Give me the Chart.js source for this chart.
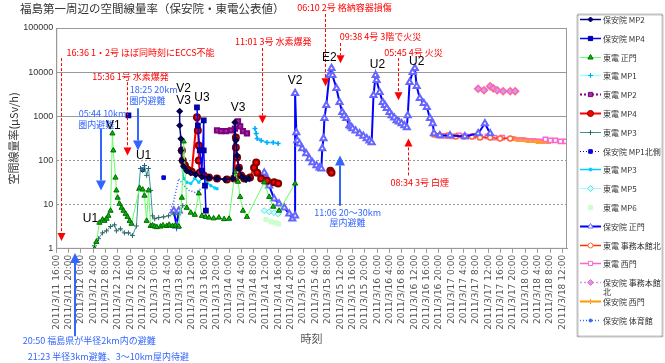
<!DOCTYPE html>
<html>
<head>
<meta charset="utf-8">
<script src="https://cdn.jsdelivr.net/npm/chart.js@4.4.1/dist/chart.umd.min.js"></script>
<style>
  html, body { margin: 0; padding: 0; background: #fff; }
  #wrap { width: 665px; height: 363px; position: relative; }
</style>
</head>
<body>
<div id="wrap"><canvas id="myChart"></canvas></div>
<script>
// x values are hours counted from 2011/3/11 16:00, y values in μSv/h
const tickLabels = [
  '2011/3/11 16:00', '2011/3/11 20:00',
  '2011/3/12 0:00', '2011/3/12 4:00', '2011/3/12 8:00', '2011/3/12 12:00', '2011/3/12 16:00', '2011/3/12 20:00',
  '2011/3/13 0:00', '2011/3/13 4:00', '2011/3/13 8:00', '2011/3/13 12:00', '2011/3/13 16:00', '2011/3/13 20:00',
  '2011/3/14 0:00', '2011/3/14 4:00', '2011/3/14 8:00', '2011/3/14 12:00', '2011/3/14 16:00', '2011/3/14 20:00',
  '2011/3/15 0:00', '2011/3/15 4:00', '2011/3/15 8:00', '2011/3/15 12:00', '2011/3/15 16:00', '2011/3/15 20:00',
  '2011/3/16 0:00', '2011/3/16 4:00', '2011/3/16 8:00', '2011/3/16 12:00', '2011/3/16 16:00', '2011/3/16 20:00',
  '2011/3/17 0:00', '2011/3/17 4:00', '2011/3/17 8:00', '2011/3/17 12:00', '2011/3/17 16:00', '2011/3/17 20:00',
  '2011/3/18 0:00', '2011/3/18 4:00', '2011/3/18 8:00', '2011/3/18 12:00'
];
const yTickValues = [1, 10, 100, 1000, 10000, 100000];

// 保安院 MP2
const nisaMp2T = [40.0, 40.0, 40.4, 40.4, 40.7, 41.3, 42.3, 43.6, 45.2, 47.2, 49.5, 52.1, 54.7, 57.3, 57.9, 58.2, 58.6, 59.2, 60.2, 61.5, 62.5];
const nisaMp2V = [1300, 620, 310, 169, 100, 73, 59, 53, 48, 43, 41, 39, 37, 39, 730, 285, 130, 66, 43, 37, 39];
// 保安院 MP4
const nisaMp4T = [23.4, 30, 45.6, 45.9, 46.5, 47.2, 47.8, 47.8, 48.2, 48.5];
const nisaMp4V = [1050, null, 1600, 620, 169, 59, 810, 169, 27, 7.3];
// 東電 正門
const tepcoGateT = [12.4, 13.0, 14.0, 15.0, 15.6, 16.3, 16.9, 17.6, 18.2, 18.5, 19.2, 19.5, 19.9, 20.5, 21.2, 21.8,
  22.5, 23.1, 23.8, 24.4, 27.0, 28.0, 28.6, 29.3, 29.9, 30.6, 31.2, 31.9, 32.6, 33.8, 34.6, 35.8, 36.6, 37.7, 38.6, 39.7,
  40.7, 41.3, 42.3, 43.6, 44.9, 46.2, 47.2, 48.4, 49.5, 51.0, 52.7, 54.4, 56.0, 57.9, 58.9, 59.6, 60.5, 61.8,
  67.4, 69.0, 70.3, 72.2, 77.4];
const tepcoGateV = [1.0, 1.44, 3.9, 4.6, 4.3, 4.8, 5.6, 7.3, 410, 169, 41, 21, 14.4, 10.5, 8.5, 7.3,
  6.2, 5.3, 4.3, 3.7, 24, 22, 16, 4.3, 21, 3.3, 3.4, 3.2, 3.1, 3.2, 3.4, 3.3, 3.5, 3.3, 3.4, 3.2,
  14.4, 270, 8.5, 6.6, 5.9, 18, 5.6, 5.3, 5.1, 4.9, 5.1, 4.7, 4.8, 54, 33, 15, 7.3, 5.3,
  32, 15, 9, 7.3, 30];
// 東電 MP1
const tepcoMp1T = [64.4, 64.8, 65.1, 66.4, 68.3, 70.3, 71.9];
const tepcoMp1V = [530, 410, 316, 285, 256, 256, 243];
// 東電 MP2
const tepcoMp2T = [52.1, 53.4, 55.0, 56.6, 57.9, 58.9, 59.6, 60.5, 61.8];
const tepcoMp2V = [480, 460, 460, 480, 530, 770, 590, 460, 410];
// 東電 MP4
const tepcoMp4T = [40.7, 41.0, 41.7, 42.6, 43.9, 45.6, 45.9, 46.2, 46.2, 46.5, 47.8, 49.5, 52.1, 55.3, 57.6,
  58.2, 58.2, 58.6, 59.2, 59.9, 60.9, 62.8, 64.1, 64.8, 65.1, 66.4, 68.3, 70.6, 71.9, 80, 88.8, 89.2];
const tepcoMp4V = [169, 100, 77, 62, 56, 950, 480, 219, 100, 53, 46, 41, 39, 37, 39,
  330, 197, 117, 69, 46, 39, 41, 69, 90, 53, 39, 35, 32, 30, null, 59, 53];
// 東電 MP3
const tepcoMp3T = [12.4, 13.7, 15.0, 16.3, 17.6, 18.9, 19.5, 20.8, 22.1, 23.4, 24.7, 26.0, 26.7, 27.3,
  28.0, 28.6, 29.3, 29.9, 30.6, 31.2, 31.9, 33.2, 34.8, 36.4, 38.1, 39.7, 41.0];
const tepcoMp3V = [1.17, 1.7, 2.3, 2.56, 3.2, 3.5, 2.56, 2.85, 2.3, 2.3, 2.0, 3.3, 21, 66,
  59, 77, 46, 66, 21, 5.6, 4.8, 5.1, 5.3, 5.6, 6.2, 5.9, 9.5];
// 保安院 MP1北側
const nisaMp1nT = [28.0, 31.0, 34.8];
const nisaMp1nV = [62, null, 41];
// 東電 MP3 (second series)
const tepcoMp3bT = [40.7, 41.3, 42.3, 43.6, 44.9, 46.2, 47.5, 48.8, 50.1, 51.4, 52.1];
const tepcoMp3bV = [77, 39, 32, 30, 39, 32, 43, 32, 27, 24, 23];
// 東電 MP5
const tepcoMp5T = [67.4, 69.0, 70.6, 71.9];
const tepcoMp5V = [7.3, 6.9, 6.6, 6.2];
// 東電 MP6
const tepcoMp6T = [68.0, 69.6, 71.0, 72.0];
const tepcoMp6V = [4.6, 4.1, 3.9, 3.7];
// 保安院 正門
const nisaGateT = [38.1, 39.0, 39.7, 55.0,
  67.4, 68.3, 69.0, 70.6, 72.2, 73.9, 75.5, 76.5, 77.4, 77.4, 77.8, 78.1, 78.8, 79.7, 81.0, 82.0, 83.0, 84.3, 85.3, 85.9,
  86.2, 86.6, 86.9, 87.5, 88.5, 89.2, 89.5, 90.8, 91.8, 92.7, 93.3, 94.0, 95.0, 95.5, 96.0, 97.0, 98.3, 99.5, 100.6, 101.5, 102.2,
  102.8, 103.5, 103.8, 104.8, 105.8, 106.5, 107.1, 108.0, 108.7, 109.5, 110.3, 111.0, 111.9, 112.8, 113.6,
  113.9, 114.5, 115.5, 116.2, 116.8, 117.8, 119.1, 120.1, 121.1, 122.0, 122.4, 124.3, 127.6, 132.4, 136.7, 138.9, 140.6];
const nisaGateV = [7.3, 3.3, 7.3, null,
  53, 39, 27, 13.7, 10.5, 8.5, 6.2, 4.8, 5.6, 3330, 430, 285, 240, 188, 144, 111, 90, 77, 69, 65,
  188, 316, 900, 1780, 8550, 12300, 8550, 4330, 2080, 1230, 1050, 900, 620, 580, 530, 470, 410, 360, 316, 280, 256,
  3000, 8550, 6580, 3510, 2080, 1780, 1520, 1230, 1050, 930, 810, 750, 690, 620, 560,
  1050, 5930, 10000, 12300, 4810, 2560, 1970, 1600, 900, 690, 410, 370, 370, 350, 410, 690, 410];
// 東電 事務本館北
const tepcoOfficeT = [122.4, 124.3, 126.9, 129.5, 132.1, 134.7, 137.3, 140.6, 143.8, 147.1];
const tepcoOfficeV = [390, 370, 370, 350, 350, 350, 330, 330, 316, 316];
// 東電 西門
const tepcoWestT = [125.9, 128.2, 130.5, 132.8, 135.1, 137.4, 139.7, 142.0, 144.5, 158.5, 160.1, 161.7, 163.4, 165.0];
const tepcoWestV = [360, 350, 370, 350, 350, 340, 350, 330, 330, 300, 285, 285, 270, 270];
// 保安院 事務本館北
const nisaOfficeT = [136.7, 138.6, 140.6, 141.6, 142.9, 144.8, 147.1, 148.7];
const nisaOfficeV = [4200, 3900, 4800, 4300, 3900, 3700, 3700, 3700];
// 保安院 西門
const nisaWestT = [148.1, 149.7, 151.3, 152.9, 154.6, 156.2, 157.8, 159.5];
const nisaWestV = [316, 300, 300, 285, 285, 270, 270, 270];
// 保安院 体育館
const nisaGymT = [36.4, 38.1, 39.7, 41.3, 43.0, 44.9, 46.2, 47.8, 49.5];
const nisaGymV = [5.6, 12.3, 39, 27, 21, 19, 21, 26, 21];

// event notes: arrow at time t from value a to value b, text centred at (tx, ty)
const redNotes = [
  { t: 1.6, a: 20800, b: 1.5, text: '16:36 1・2号 ほぼ同時刻にECCS不能', tx: 27.3, ty: 28500 },
  { t: 22.8, a: 5930, b: 130, text: '15:36 1号 水素爆発', tx: 24.1, ty: 8110 },
  { t: 66.7, a: 35100, b: 690, text: '11:01 3号 水素爆発', tx: 70.3, ty: 48100 },
  { t: 87.2, a: 208000, b: 4810, text: '06:10 2号 格納容器損傷', tx: 93.4, ty: 284800 },
  { t: 92.1, a: 45600, b: 16000, text: '09:38 4号 3階で火災', tx: 105.1, ty: 62400 },
  { t: 110.6, a: 20800, b: 2310, text: '05:45 4号 火災', tx: 115.8, ty: 28500 },
  { t: 113.9, a: 46, b: 316, text: '08:34 3号 白煙', tx: 117.8, ty: 31.6 }
];
const blueNotes = [
  { t: 14.6, a: 530, b: 21, lines: [['05:44 10km', 15.0, 1170], ['圏内避難', 13.0, 658]] },
  { t: 26.4, a: 1520, b: 169, lines: [['18:25 20km', 31.6, 4110], ['圏内避難', 29.6, 2310]] },
  { t: 92.1, a: 9.5, b: 130, lines: [['11:06 20～30km', 94.4, 6.58], ['屋内避難', 94.4, 3.9]] },
  { t: 6.2, a: 0.0105, b: 0.81, lines: [['20:50 福島県が半径2km内の避難', 10.7, 0.00855], ['21:23 半径3km避難、3～10km屋内待避', 16.9, 0.0037]] }
];
const peakLabels = [
  ['V2', 41.3, 4330], ['V3', 41.3, 2310], ['U3', 47.2, 2700], ['V3', 58.9, 1600], ['V1', 18.5, 624],
  ['U1', 28.3, 130], ['U1', 11.1, 4.8], ['V2', 77.4, 6580], ['E2', 88.5, 20800], ['U2', 104.1, 14400], ['U2', 116.8, 16900]
];

const pts = (t, v) => t.map((x, i) => ({ x: x, y: v[i] }));
const JP = '"Noto Sans CJK JP", sans-serif';

function drawMarker(ctx, style, x, y, r, fill, stroke, lw) {
  if (!r) return;
  ctx.save();
  ctx.setLineDash([]);
  ctx.lineWidth = lw || 1;
  ctx.fillStyle = fill;
  ctx.strokeStyle = stroke;
  ctx.beginPath();
  if (style === 'circle') {
    ctx.arc(x, y, r, 0, Math.PI * 2);
  } else if (style === 'rect') {
    const s = r * Math.SQRT1_2;
    ctx.rect(x - s, y - s, 2 * s, 2 * s);
  } else if (style === 'rectRot') {
    ctx.moveTo(x, y - r); ctx.lineTo(x + r, y); ctx.lineTo(x, y + r); ctx.lineTo(x - r, y); ctx.closePath();
  } else if (style === 'triangle') {
    ctx.moveTo(x, y - r); ctx.lineTo(x + r * 0.866, y + r * 0.5); ctx.lineTo(x - r * 0.866, y + r * 0.5); ctx.closePath();
  } else if (style === 'cross') {
    ctx.moveTo(x - r, y); ctx.lineTo(x + r, y); ctx.moveTo(x, y - r); ctx.lineTo(x, y + r);
  }
  if (style !== 'cross') ctx.fill();
  ctx.stroke();
  ctx.restore();
}

function drawArrow(ctx, x, y0, y1, color, dashed) {
  const dir = y1 > y0 ? 1 : -1;
  const head = dashed ? 8 : 10;
  const half = dashed ? 4 : 5;
  ctx.strokeStyle = color;
  ctx.fillStyle = color;
  ctx.lineWidth = dashed ? 1 : 2;
  ctx.setLineDash(dashed ? [3, 2] : []);
  ctx.beginPath();
  ctx.moveTo(x, y0);
  ctx.lineTo(x, y1 - dir * head);
  ctx.stroke();
  ctx.setLineDash([]);
  ctx.beginPath();
  ctx.moveTo(x - half, y1 - dir * head);
  ctx.lineTo(x + half, y1 - dir * head);
  ctx.lineTo(x, y1);
  ctx.closePath();
  ctx.fill();
}

const notesPlugin = {
  id: 'notes',
  afterDraw(chart) {
    const { ctx, chartArea, scales: { x, y } } = chart;
    ctx.save();
    // frame around the plot
    ctx.strokeStyle = '#999';
    ctx.lineWidth = 1;
    ctx.strokeRect(chartArea.left + 0.5, chartArea.top + 0.5, chartArea.width - 1, chartArea.height - 1);

    // chart title
    ctx.fillStyle = '#333';
    ctx.font = '11.5px ' + JP;
    ctx.textAlign = 'left';
    ctx.textBaseline = 'middle';
    ctx.fillText('福島第一周辺の空間線量率（保安院・東電公表値）', 20, 9);

    ctx.textAlign = 'center';
    ctx.font = '9px ' + JP;
    redNotes.forEach(n => {
      const px = Math.round(x.getPixelForValue(n.t)) + 0.5;
      drawArrow(ctx, px, y.getPixelForValue(n.a), y.getPixelForValue(n.b), '#ff0000', true);
      ctx.fillStyle = '#ff0000';
      ctx.fillText(n.text, x.getPixelForValue(n.tx), y.getPixelForValue(n.ty));
    });
    blueNotes.forEach(n => {
      const px = Math.round(x.getPixelForValue(n.t));
      drawArrow(ctx, px, y.getPixelForValue(n.a), y.getPixelForValue(n.b), '#3366ff', false);
      ctx.fillStyle = '#3366ff';
      n.lines.forEach(l => ctx.fillText(l[0], x.getPixelForValue(l[1]), y.getPixelForValue(l[2])));
    });

    ctx.fillStyle = '#000';
    ctx.font = '12px "Liberation Sans", Arial, sans-serif';
    peakLabels.forEach(l => ctx.fillText(l[0], x.getPixelForValue(l[1]), y.getPixelForValue(l[2])));

    // legend box on the right
    const lx = 577, ly = 14, lw = 85, lh = 322, first = 19, step = 18.8;
    ctx.setLineDash([1, 1]);
    ctx.strokeStyle = '#888';
    ctx.strokeRect(lx + 0.5, ly + 0.5, lw, lh);
    ctx.setLineDash([]);
    ctx.font = '8px ' + JP;
    ctx.textAlign = 'left';
    chart.data.datasets.forEach((ds, i) => {
      const cy = Math.round(first + i * step) + 0.5;
      if (ds.showLine !== false) {
        ctx.strokeStyle = ds.legendColor || ds.borderColor;
        ctx.lineWidth = Math.min(ds.borderWidth, 2);
        ctx.setLineDash(ds.borderDash || []);
        ctx.beginPath();
        ctx.moveTo(580, cy);
        ctx.lineTo(601, cy);
        ctx.stroke();
        ctx.setLineDash([]);
      }
      drawMarker(ctx, ds.pointStyle, 590.5, cy, Math.min(Math.max(ds.pointRadius, 1.5), 3), ds.pointBackgroundColor, ds.pointBorderColor, 1);
      ctx.fillStyle = '#333';
      let text = ds.label, rest = '';
      while (ctx.measureText(text).width > 62) { rest = text.slice(-1) + rest; text = text.slice(0, -1); }
      ctx.fillText(text, 603, cy);
      if (rest) ctx.fillText(rest, 603, cy + 9);
    });
    ctx.restore();
  }
};

const ctx = document.getElementById('myChart').getContext('2d');
const myChart = new Chart(ctx, {
  type: 'line',
  data: {
    datasets: [
      { label: '保安院 MP2', data: pts(nisaMp2T, nisaMp2V), borderColor: '#000080', borderWidth: 1.5,
        pointStyle: 'rectRot', pointRadius: 2.5, pointBackgroundColor: '#000080', pointBorderColor: '#000040' },
      { label: '保安院 MP4', data: pts(nisaMp4T, nisaMp4V), borderColor: '#0000ff', borderWidth: 1.5,
        pointStyle: 'rect', pointRadius: 3, pointBackgroundColor: '#0000cc', pointBorderColor: '#000099' },
      { label: '東電 正門', data: pts(tepcoGateT, tepcoGateV), borderColor: '#66ff66', borderWidth: 1,
        pointStyle: 'triangle', pointRadius: 3, pointBackgroundColor: '#00bb00', pointBorderColor: '#006600' },
      { label: '東電 MP1', data: pts(tepcoMp1T, tepcoMp1V), borderColor: '#33ccff', borderWidth: 1.5,
        pointStyle: 'cross', pointRadius: 2.5, pointBackgroundColor: '#33ccff', pointBorderColor: '#00aaff', legendColor: '#99ffff' },
      { label: '東電 MP2', data: pts(tepcoMp2T, tepcoMp2V), borderColor: '#800080', borderWidth: 2, borderDash: [2, 2],
        pointStyle: 'rect', pointRadius: 3, pointBackgroundColor: '#993399', pointBorderColor: '#800080' },
      { label: '東電 MP4', data: pts(tepcoMp4T, tepcoMp4V), borderColor: '#ff0000', borderWidth: 2,
        pointStyle: 'circle', pointRadius: 3, pointBackgroundColor: '#ff0000', pointBorderColor: '#800000' },
      { label: '東電 MP3', data: pts(tepcoMp3T, tepcoMp3V), borderColor: '#339999', borderWidth: 1,
        pointStyle: 'cross', pointRadius: 2.5, pointBackgroundColor: '#336666', pointBorderColor: '#336666' },
      { label: '保安院 MP1北側', data: pts(nisaMp1nT, nisaMp1nV), borderColor: '#0000ff', borderWidth: 1, borderDash: [1, 2],
        pointStyle: 'rect', pointRadius: 2.5, pointBackgroundColor: '#0000ff', pointBorderColor: '#0000cc' },
      { label: '東電 MP3', data: pts(tepcoMp3bT, tepcoMp3bV), borderColor: '#00ccff', borderWidth: 1.5,
        pointStyle: 'circle', pointRadius: 1, pointBackgroundColor: '#00ccff', pointBorderColor: '#00ccff' },
      { label: '東電 MP5', data: pts(tepcoMp5T, tepcoMp5V), borderColor: '#99ffff', borderWidth: 1,
        pointStyle: 'rectRot', pointRadius: 3, pointBackgroundColor: '#ccffff', pointBorderColor: '#66dddd' },
      { label: '東電 MP6', data: pts(tepcoMp6T, tepcoMp6V), showLine: false, borderColor: '#ccffcc', borderWidth: 1,
        pointStyle: 'rect', pointRadius: 3, pointBackgroundColor: '#ccffcc', pointBorderColor: '#ccffcc' },
      { label: '保安院 正門', data: pts(nisaGateT, nisaGateV), borderColor: '#0000ff', borderWidth: 2,
        pointStyle: 'triangle', pointRadius: 3.5, pointBackgroundColor: '#ffffff', pointBorderColor: '#6666ff' },
      { label: '東電 事務本館北', data: pts(tepcoOfficeT, tepcoOfficeV), borderColor: '#ff3300', borderWidth: 1.5,
        pointStyle: 'circle', pointRadius: 2.5, pointBackgroundColor: '#ffffff', pointBorderColor: '#ff6633' },
      { label: '東電 西門', data: pts(tepcoWestT, tepcoWestV), borderColor: '#ff66cc', borderWidth: 1.5,
        pointStyle: 'rect', pointRadius: 3, pointBackgroundColor: '#ffffff', pointBorderColor: '#ff66cc' },
      { label: '保安院 事務本館北', data: pts(nisaOfficeT, nisaOfficeV), borderColor: '#cc99ff', borderWidth: 1.5, borderDash: [2, 2],
        pointStyle: 'rectRot', pointRadius: 3.5, pointBackgroundColor: '#cc99ff', pointBorderColor: '#ff6699' },
      { label: '保安院 西門', data: pts(nisaWestT, nisaWestV), borderColor: '#ffc080', borderWidth: 5,
        pointStyle: 'cross', pointRadius: 2.5, pointBackgroundColor: '#ffcc99', pointBorderColor: '#ff9933', legendColor: '#ff9900' },
      { label: '保安院 体育館', data: pts(nisaGymT, nisaGymV), borderColor: '#3366ff', borderWidth: 1.5, borderDash: [1, 2],
        pointStyle: 'circle', pointRadius: 0, pointBackgroundColor: '#3366ff', pointBorderColor: '#3366ff' }
    ]
  },
  options: {
    responsive: true,
    maintainAspectRatio: false,
    animation: false,
    layout: { padding: { left: 0, right: 98, top: 28, bottom: 18 } },
    plugins: {
      legend: { display: false },
      tooltip: { enabled: false }
    },
    scales: {
      x: {
        type: 'linear',
        min: 0,
        max: 165.5,
        afterBuildTicks: function(scale) {
          scale.ticks = tickLabels.map((l, i) => ({ value: i * 4 }));
        },
        ticks: {
          autoSkip: false,
          minRotation: 90,
          maxRotation: 90,
          padding: 2,
          color: '#555',
          font: { family: '"DejaVu Sans", sans-serif', size: 9 },
          callback: function(value, index) { return tickLabels[index]; }
        },
        grid: { drawOnChartArea: false, drawTicks: true, tickLength: 4, color: '#999' },
        border: { color: '#999' },
        title: { display: true, text: '時刻', color: '#555', font: { family: JP, size: 11 }, padding: { top: 0, bottom: 0 } }
      },
      y: {
        type: 'logarithmic',
        min: 1,
        max: 100000,
        afterBuildTicks: function(scale) {
          scale.ticks = yTickValues.map(v => ({ value: v }));
        },
        ticks: {
          color: '#333',
          padding: 3,
          font: { family: '"Liberation Sans", Arial, sans-serif', size: 9 },
          callback: function(value) { return String(value); }
        },
        grid: { color: '#999', drawTicks: false },
        border: {
          color: '#999',
          dash: function(c) { return (c.tick && (c.tick.value === 10 || c.tick.value === 100)) ? [2, 2] : []; }
        },
        title: { display: true, text: '空間線量率(μSv/h)', color: '#333', font: { family: JP, size: 11 }, padding: { top: 7, bottom: 0 } }
      }
    }
  },
  plugins: [notesPlugin]
});
</script>
</body>
</html>
